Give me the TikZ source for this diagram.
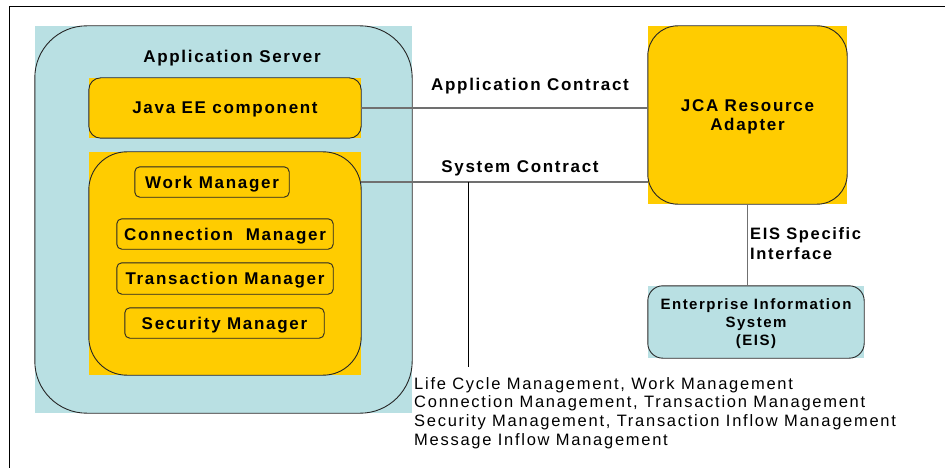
\documentclass[tikz,border=0pt]{standalone}
\usepackage{fontspec}
\newfontfamily\diagfont[LetterSpace=10]{Liberation Sans}
\newfontfamily\notefont[LetterSpace=10.5]{Liberation Sans}
\usetikzlibrary{positioning}

\definecolor{jcayellow}{RGB}{255,204,0}
\definecolor{eisblue}{RGB}{185,224,227}
\definecolor{wiregray}{RGB}{112,112,112}

\begin{document}
\begin{tikzpicture}[x=1pt, y=-1pt,
    panel/.style={rectangle, inner sep=0pt, text depth=0pt, align=center, font=\diagfont\bfseries\fontsize{17}{19}\selectfont},
    bluepanel/.style={panel, fill=eisblue},
    yellowpanel/.style={panel, fill=jcayellow},
    border/.style={draw=black!85, line width=0.9pt},
    wire/.style={draw=wiregray, line width=1.3pt},
    contract/.style={font=\diagfont\bfseries\fontsize{17}{19}\selectfont, inner sep=0pt, text depth=0pt},
    note/.style={font=\notefont\fontsize{16.5}{18.7}\selectfont, align=left, inner sep=0pt}
]
\useasboundingbox (0,0) rectangle (945,468);

% Page frame
\draw[black, line width=1pt] (9,468) -- (9,7) -- (945,7);

% Application server
\node[bluepanel, minimum width=377pt, minimum height=387pt] (appserver) at (223.5,219.5) {};
\node[contract] (apptitle) at (232,56) {Application Server};

% Java EE component
\node[yellowpanel, minimum width=272pt, minimum height=60pt] (javaee) at (225,108) {Java EE component};

% System services of the server
\node[yellowpanel, minimum width=272pt, minimum height=223pt] (sysservices) at (225,263.5) {};
\node[yellowpanel, minimum width=154pt, minimum height=30pt] (work) at (212,182) {Work Manager};
\node[yellowpanel, minimum width=216pt, minimum height=30pt] (conn) at (225,234) {Connection~ Manager};
\node[yellowpanel, minimum width=216pt, minimum height=31pt] (trans) at (225,278.5) {Transaction Manager};
\node[yellowpanel, minimum width=199pt, minimum height=30pt] (secu) at (224.5,323) {Security Manager};

% Resource adapter and EIS
\node[yellowpanel, minimum width=199pt, minimum height=178pt] (jca) at (747.5,115) {JCA Resource\\Adapter};
\node[bluepanel, minimum width=216pt, minimum height=72pt,
      font=\diagfont\bfseries\fontsize{15}{18}\selectfont] (eis) at (756,322) {Enterprise Information\\System\\(EIS)};

% Rounded borders
\foreach \n/\r in {appserver/52pt, javaee/12pt, sysservices/38pt, work/5pt, conn/5pt, trans/5pt, secu/5pt, jca/30pt, eis/15pt}
  \draw[border, rounded corners=\r] (\n.south west) rectangle (\n.north east);

% Contracts
\draw[wire] (javaee.east) -- (javaee.east -| jca.west);
\node[contract] (appcontract) at (530,84) {Application Contract};
\draw[wire] (work -| sysservices.east) -- (work -| jca.west);
\node[contract] (syscontract) at (520,167) {System Contract};

% System contract services
\coordinate (drop) at (468,367);
\draw[black, line width=1pt] (drop |- work) -- (drop);
\node[note, anchor=north west] (services) at (414,377) {Life Cycle Management, Work Management\\Connection Management, Transaction Management\\Security Management, Transaction Inflow Management\\Message Inflow Management};

% EIS specific interface
\draw[wire] (jca.south) -- (jca.south |- eis.north);
\node[contract, align=left, anchor=north west, font=\diagfont\bfseries\fontsize{16.5}{20}\selectfont] (eisif) at (750,227) {EIS Specific\\Interface};

\end{tikzpicture}
\end{document}
